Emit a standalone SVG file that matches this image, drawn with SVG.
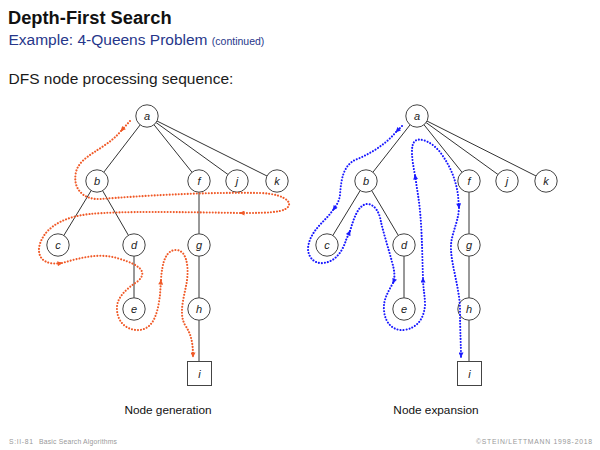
<svg xmlns="http://www.w3.org/2000/svg" width="600" height="450" viewBox="0 0 600 450">
<style>
.t{font-family:"Liberation Sans",Arial,sans-serif}
.n circle,.n rect{fill:#fff;stroke:#444;stroke-width:1}
.n text{font-family:"Liberation Sans",Arial,sans-serif;font-style:italic;font-size:11px;fill:#222;text-anchor:middle}
.e line{stroke:#333;stroke-width:1}
.red{fill:none;stroke:#f05a28;stroke-width:2.1;stroke-dasharray:0.01 3;stroke-linecap:round;marker-end:url(#ar)}
.blue{fill:none;stroke:#1a1aff;stroke-width:2.1;stroke-dasharray:0.01 3;stroke-linecap:round;marker-end:url(#ab)}
.ft{font-family:"Liberation Sans",Arial,sans-serif;font-size:6.8px;fill:#999}
</style>
<defs>
<marker id="ar" viewBox="0 0 10 10" refX="9" refY="5" markerWidth="8" markerHeight="5" markerUnits="userSpaceOnUse" orient="auto"><path d="M0,0 L10,5 L0,10 z" fill="#f05a28"/></marker>
<marker id="ab" viewBox="0 0 10 10" refX="9" refY="5" markerWidth="8" markerHeight="5" markerUnits="userSpaceOnUse" orient="auto"><path d="M0,0 L10,5 L0,10 z" fill="#1a1aff"/></marker>
</defs>
<rect width="600" height="450" fill="#fff"/>
<text class="t" x="8" y="24" font-size="18.3" font-weight="bold" fill="#111">Depth-First Search</text>
<text class="t" x="8.5" y="45" font-size="15.5" fill="#26368a">Example: 4-Queens Problem <tspan font-size="10.5">(continued)</tspan></text>
<text class="t" x="8.5" y="84" font-size="15.5" fill="#1a1a1a">DFS node processing sequence:</text>

<g id="edges" class="e">
<line x1="147" y1="116" x2="97" y2="181"/><line x1="147" y1="116" x2="199" y2="181"/>
<line x1="147" y1="116" x2="237" y2="181"/><line x1="147" y1="116" x2="277" y2="181"/>
<line x1="97" y1="181" x2="58" y2="245"/><line x1="97" y1="181" x2="134" y2="245"/>
<line x1="134" y1="245" x2="134" y2="309"/><line x1="199" y1="181" x2="199" y2="373"/>
<line x1="417" y1="116" x2="366" y2="181"/><line x1="417" y1="116" x2="469" y2="181"/>
<line x1="417" y1="116" x2="507" y2="181"/><line x1="417" y1="116" x2="546" y2="181"/>
<line x1="366" y1="181" x2="327" y2="245"/><line x1="366" y1="181" x2="404" y2="245"/>
<line x1="404" y1="245" x2="404" y2="309"/><line x1="469" y1="181" x2="469" y2="373"/>
</g>

<g id="L-a" class="n"><circle cx="147" cy="116" r="11.2"/><text x="147" y="120">a</text></g>
<g id="L-b" class="n"><circle cx="97" cy="181" r="11.2"/><text x="97" y="185">b</text></g>
<g id="L-f" class="n"><circle cx="199" cy="181" r="11.2"/><text x="199" y="185">f</text></g>
<g id="L-j" class="n"><circle cx="237" cy="181" r="11.2"/><text x="237" y="185">j</text></g>
<g id="L-k" class="n"><circle cx="277" cy="181" r="11.2"/><text x="277" y="185">k</text></g>
<g id="L-c" class="n"><circle cx="58" cy="245" r="11.2"/><text x="58" y="249">c</text></g>
<g id="L-d" class="n"><circle cx="134" cy="245" r="11.2"/><text x="134" y="249">d</text></g>
<g id="L-g" class="n"><circle cx="199" cy="245" r="11.2"/><text x="199" y="249">g</text></g>
<g id="L-e" class="n"><circle cx="134" cy="309" r="11.2"/><text x="134" y="313">e</text></g>
<g id="L-h" class="n"><circle cx="199" cy="309" r="11.2"/><text x="199" y="313">h</text></g>
<g id="L-i" class="n"><rect x="187.5" y="361.5" width="24" height="24"/><text x="199.5" y="378">i</text></g>

<g id="R-a" class="n"><circle cx="417" cy="116" r="11.2"/><text x="417" y="120">a</text></g>
<g id="R-b" class="n"><circle cx="366" cy="181" r="11.2"/><text x="366" y="185">b</text></g>
<g id="R-f" class="n"><circle cx="469" cy="181" r="11.2"/><text x="469" y="185">f</text></g>
<g id="R-j" class="n"><circle cx="507" cy="181" r="11.2"/><text x="507" y="185">j</text></g>
<g id="R-k" class="n"><circle cx="546" cy="181" r="11.2"/><text x="546" y="185">k</text></g>
<g id="R-c" class="n"><circle cx="327" cy="245" r="11.2"/><text x="327" y="249">c</text></g>
<g id="R-d" class="n"><circle cx="404" cy="245" r="11.2"/><text x="404" y="249">d</text></g>
<g id="R-g" class="n"><circle cx="469" cy="245" r="11.2"/><text x="469" y="249">g</text></g>
<g id="R-e" class="n"><circle cx="404" cy="309" r="11.2"/><text x="404" y="313">e</text></g>
<g id="R-h" class="n"><circle cx="469" cy="309" r="11.2"/><text x="469" y="313">h</text></g>
<g id="R-i" class="n"><rect x="457.5" y="361.5" width="24" height="24"/><text x="469.5" y="378">i</text></g>

<g id="generation-path">
<path class="red" d="M130,121 L121,131"/>
<path class="red" d="M121,131 C105,150 80,155 76,172 C72,190 85,200 100,199 C140,196 200,192 260,193 C290,194 297,207 280,211 C270,213 255,213 240,213"/>
<path class="red" d="M240,213 C180,212 120,211 90,214 C60,217 42,230 39,248 C38,262 50,265 62,263"/>
<path class="red" d="M62,263 C80,258 100,252 120,259 C140,265 148,272 138,281 C125,290 116,298 117,310 C118,325 130,331 140,330 C155,328 158,310 160,295 L161,280"/>
<path class="red" d="M161,280 C162,262 166,250 176,250 C186,250 189,265 187,280 C185,295 178,312 185,325 C192,335 193,345 193,357"/>
</g>

<g id="expansion-path">
<path class="blue" d="M402,126 L396,132"/>
<path class="blue" d="M396,132 C385,145 370,154 355,160 C343,166 341,180 340,195 C339,202 336,206 333,210"/>
<path class="blue" d="M333,210 C325,222 310,230 308,248 C308,258 315,264 323,263 C336,262 343,250 346,240 L350,231"/>
<path class="blue" d="M350,231 C354,218 358,205 367,204 C376,204 380,215 381,222 C384,235 389,250 392,262 C395,272 395,278 393,283"/>
<path class="blue" d="M393,283 C388,292 383,300 384,310 C385,325 395,331 404,330 C418,328 424,318 425,305 C425,295 423,288 423,278"/>
<path class="blue" d="M423,278 C422,250 422,220 418,195 L415,175"/>
<path class="blue" d="M415,175 C412,160 410,145 415,141 C420,137 432,142 440,152 C450,165 456,180 458,195 L459,208"/>
<path class="blue" d="M459,208 C458,225 450,235 451,250 C452,268 460,290 460,310 C460,330 461,345 461,357"/>
</g>

<text class="t" x="168" y="414" font-size="11.8" fill="#111" text-anchor="middle">Node generation</text>
<text class="t" x="436" y="414" font-size="11.8" fill="#111" text-anchor="middle">Node expansion</text>
<text class="ft" x="9" y="444" textLength="24" lengthAdjust="spacing">S:II-81</text>
<text class="ft" x="39" y="444" textLength="78" lengthAdjust="spacing">Basic Search Algorithms</text>
<text class="ft" x="476" y="444" textLength="116" lengthAdjust="spacing">©STEIN/LETTMANN 1998-2018</text>
</svg>
